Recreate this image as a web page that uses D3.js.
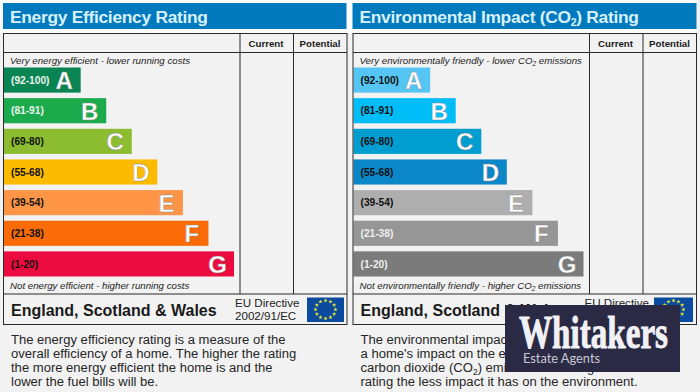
<!DOCTYPE html>
<html>
<head>
<meta charset="utf-8">
<style>
  html, body { margin: 0; padding: 0; background: #fff; }
  svg { display: block; }
  text { font-family: "Liberation Sans", Arial, sans-serif; }
</style>
<script src="https://d3js.org/d3.v7.min.js"></script>
</head>
<body>
<div id="chart"></div>
<script>
// rating bands, same for both panels
const bands = ["A", "B", "C", "D", "E", "F", "G"];
const ranges = ["(92-100)", "(81-91)", "(69-80)", "(55-68)", "(39-54)", "(21-38)", "(1-20)"];
const barLength = [3, 4, 5, 6, 7, 8, 9];

const energyColors = ["#0a8453", "#1cab4c", "#8cbc2f", "#fdbb00", "#fd9446", "#fb6c08", "#ec0b3e"];
const energyRangeColors = ["#e8f4ee", "#e8f4ee", "#111", "#111", "#111", "#111", "#111"];
const envColors = ["#55c6f3", "#00bdf8", "#009ed0", "#0b87c9", "#aeaeae", "#969696", "#7b7b7b"];
const envRangeColors = ["#111", "#111", "#111", "#111", "#111", "#eee", "#eee"];

const columns = ["Current", "Potential"];
const energyBody = [
  "The energy efficiency rating is a measure of the",
  "overall efficiency of a home. The higher the rating",
  "the more energy efficient the home is and the",
  "lower the fuel bills will be."
];
const envBody = [
  "The environmental impact rating is a measure of",
  "a home's impact on the environment in terms of",
  "carbon dioxide (CO|2|) emissions. The higher the",
  "rating the less impact it has on the environment."
];

const svg = d3.select("#chart")
  .append("svg")
  .attr("width", 700)
  .attr("height", 392);

svg.append("rect").attr("width", 700).attr("height", 392).attr("fill", "#f2f2f2");

// the pipe marks the subscript part of a string
function addText(sel, str, subSize) {
  str.split("|").forEach(function(part, i) {
    const t = sel.append("tspan").text(part);
    if (i == 1) t.attr("dy", subSize * 0.35).style("font-size", subSize + "px");
    if (i == 2) t.attr("dy", -subSize * 0.35);
  });
}

function drawPanel(p) {
  const g = svg.append("g").attr("transform", `translate(${p.x}, 0)`);

  g.append("rect").attr("x", -3).attr("y", 0).attr("width", 350).attr("height", 33).attr("fill", "#fbfdfe");
  g.append("rect").attr("x", 3).attr("y", 3).attr("width", 344).attr("height", 26).attr("fill", "#0079bd");
  g.append("text").attr("x", 10).attr("y", 22.5)
    .attr("fill", "#d9f1fc").style("font-size", "17.4px").style("font-weight", "bold")
    .style("letter-spacing", "-0.3px")
    .call(addText, p.title, 10.5);

  // scales
  const y = d3.scaleBand().domain(bands).range([67.5, 276.5]).paddingInner(0.18).paddingOuter(0);
  const x = d3.scaleLinear().domain([0, 9]).range([4, 234]);

  // bars
  const rows = g.selectAll("g.row")
    .data(bands)
    .join("g")
    .attr("class", "row");

  rows.append("rect")
    .attr("x", x(0))
    .attr("y", d => y(d))
    .attr("width", (d, i) => x(barLength[i]) - x(0))
    .attr("height", y.bandwidth())
    .attr("fill", (d, i) => p.colors[i]);

  rows.append("text")
    .attr("x", 11)
    .attr("y", d => y(d) + y.bandwidth() / 2 + 3.7)
    .attr("fill", (d, i) => p.rangeColors[i])
    .style("font-size", "10.2px").style("font-weight", "bold")
    .text((d, i) => ranges[i]);

  rows.append("text")
    .attr("x", (d, i) => x(barLength[i]) - 16.5)
    .attr("y", d => y(d) + y.bandwidth() / 2 + 9)
    .attr("text-anchor", "middle")
    .attr("fill", "#fff")
    .attr("stroke", "#8a8a8a").attr("stroke-width", 0.4)
    .style("font-size", "24px").style("font-weight", "bold")
    .text(d => d);

  // table lines
  const line = "#2a2a2a";
  g.append("rect").attr("x", 3.5).attr("y", 33.5).attr("width", 343.5).attr("height", 291)
    .attr("fill", "none").attr("stroke", line);
  g.append("line").attr("x1", 3.5).attr("x2", 347).attr("y1", 52.5).attr("y2", 52.5).attr("stroke", line);
  g.append("line").attr("x1", 3.5).attr("x2", 347).attr("y1", 294).attr("y2", 294).attr("stroke", line);
  [240, 293.5].forEach(function(cx) {
    g.append("line").attr("x1", cx).attr("x2", cx).attr("y1", 33.5).attr("y2", 294).attr("stroke", line);
  });

  g.selectAll("text.col")
    .data(columns)
    .join("text")
    .attr("class", "col")
    .attr("x", (d, i) => i == 0 ? 266 : 320)
    .attr("y", 47)
    .attr("text-anchor", "middle")
    .attr("fill", "#1a1a1a")
    .style("font-size", "9.7px").style("font-weight", "bold")
    .text(d => d);

  g.append("text").attr("x", 10).attr("y", 64)
    .attr("fill", "#222").style("font-size", "9.7px").style("font-style", "italic")
    .call(addText, p.top, 6.5);
  g.append("text").attr("x", 10).attr("y", 289)
    .attr("fill", "#222").style("font-size", "9.7px").style("font-style", "italic")
    .call(addText, p.bottom, 6.5);

  // footer
  g.append("text").attr("x", 11).attr("y", 316)
    .attr("fill", "#1a1a1a").style("font-size", "16px").style("font-weight", "bold")
    .text("England, Scotland & Wales");
  g.append("text").attr("x", 235).attr("y", 307)
    .attr("fill", "#222").style("font-size", "11.6px").text("EU Directive");
  g.append("text").attr("x", 235).attr("y", 320)
    .attr("fill", "#222").style("font-size", "11.6px").text("2002/91/EC");

  // EU flag
  g.append("rect").attr("x", p.flagX).attr("y", 297.5).attr("width", p.flagW).attr("height", 24.5).attr("fill", "#0b4a9c");
  const star = d3.symbol().type(d3.symbolStar).size(6);
  g.selectAll("path.star")
    .data(d3.range(12))
    .join("path")
    .attr("class", "star")
    .attr("d", star)
    .attr("fill", "#e6e23a")
    .attr("transform", d => `translate(${p.flagX + p.flagW / 2 + 10 * Math.sin(d * Math.PI / 6)}, ${309.5 - 9 * Math.cos(d * Math.PI / 6)})`);

  // description
  const body = g.append("g");
  p.body.forEach(function(l, i) {
    body.append("text").attr("x", 11).attr("y", 343.5 + i * 14.15)
      .attr("fill", "#262626").style("font-size", "13.05px")
      .call(addText, l, 8.5);
  });
}

drawPanel({
  x: 0,
  title: "Energy Efficiency Rating",
  colors: energyColors,
  rangeColors: energyRangeColors,
  top: "Very energy efficient - lower running costs",
  bottom: "Not energy efficient - higher running costs",
  flagX: 307,
  flagW: 37,
  body: energyBody
});

drawPanel({
  x: 349.5,
  title: "Environmental Impact (CO|2|) Rating",
  colors: envColors,
  rangeColors: envRangeColors,
  top: "Very environmentally friendly - lower CO|2| emissions",
  bottom: "Not environmentally friendly - higher CO|2| emissions",
  flagX: 304.5,
  flagW: 39,
  body: envBody
});

// agent logo sits over the right panel
const logo = svg.append("g");
logo.append("rect").attr("x", 505).attr("y", 305).attr("width", 175).attr("height", 67).attr("fill", "#2a2a45");
logo.append("text").attr("x", 519).attr("y", 347.5)
  .attr("fill", "#f1f1f5")
  .attr("stroke", "#f1f1f5").attr("stroke-width", 0.9)
  .attr("textLength", 149).attr("lengthAdjust", "spacingAndGlyphs")
  .style("font-family", "'Liberation Serif', serif")
  .style("font-size", "46px").style("font-weight", "bold")
  .text("Whitakers");
logo.append("text").attr("x", 523).attr("y", 363)
  .attr("fill", "#c8c8d4")
  .style("font-family", "'Lato', sans-serif")
  .style("font-size", "12.8px")
  .text("Estate Agents");
</script>
</body>
</html>
